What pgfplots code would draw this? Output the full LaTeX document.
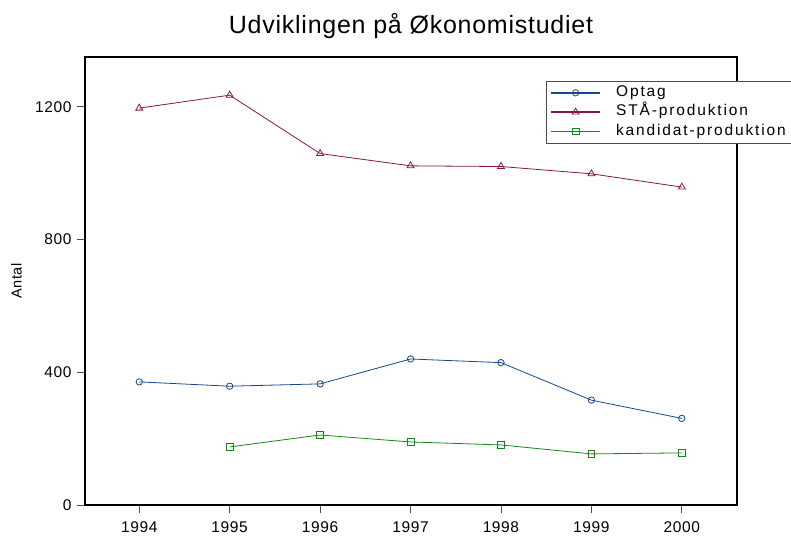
\documentclass[border=0pt]{standalone}
\usepackage{pgfplots}
\pgfplotsset{compat=1.18}
\usepackage{fontspec}
\setmainfont{Liberation Sans}
\newfontfamily\legfont[LetterSpace=12]{Liberation Sans}
\newfontfamily\tickfont[LetterSpace=4]{Liberation Sans}
\newfontfamily\titfont[LetterSpace=3]{Liberation Sans}
\usetikzlibrary{calc}
\definecolor{cOpt}{RGB}{20,72,140}
\definecolor{cSta}{RGB}{135,20,75}
\definecolor{cKan}{RGB}{20,135,20}
\begin{document}
\begin{tikzpicture}
\begin{axis}[
  name=ax,
  scale only axis,
  width=652pt, height=448pt,
  xmin=1993.4, xmax=2000.61,
  ymin=0, ymax=1350,
  xtick={1994,...,2000},
  ytick={0,400,800,1200},
  /pgf/number format/1000 sep={},
  /pgf/number format/assume math mode=true,
  tick label style={font=\tickfont\fontsize{15.5}{17}\selectfont},
  yticklabel style={xshift=-2pt},
  xticklabel style={yshift=-5pt},
  tick align=outside,
  xtick pos=bottom, ytick pos=left,
  major tick length=8pt,
  axis line style={line width=1.3pt},
  tick style={line width=0.8pt, black!70},
  title={Udviklingen på Økonomistudiet},
  title style={font=\titfont\fontsize{25}{28}\selectfont, at={(axis description cs:0.5,1)}, anchor=base, inner sep=0pt, yshift=17pt},
  ylabel={Antal},
  ylabel style={font=\tickfont\fontsize{14.5}{16}\selectfont, at={(axis description cs:-0.0966,0.5)}, anchor=south, inner sep=0pt},
  legend style={at={(0.707,0.947)}, anchor=north west, draw=black!70, line width=0.8pt,
    font=\legfont\fontsize{15.5}{17}\selectfont, row sep=0pt, inner xsep=4pt, inner ysep=2pt,
    nodes={text height=11pt, text depth=3.5pt, inner ysep=2.4pt, inner xsep=3pt},
    legend cell align=left},
  legend image code/.code={
    \draw[#1, line width=1.5pt] (0pt,0pt) -- (49pt,0pt);
    \draw[mark repeat=2,mark phase=2,#1, line width=1.2pt] plot coordinates {(0pt,0pt) (24.5pt,0pt) (49pt,0pt)};
    \path[draw=none, fill=none] (49pt,0pt) -- (62pt,0pt);
  },
  clip=false,
]
\addplot[cOpt, line width=0.8pt, mark=o, mark size=3.2pt, mark options={fill=white, line width=0.8pt}]
  coordinates {(1994,371) (1995,358) (1996,365) (1997,440) (1998,429) (1999,316) (2000,261)};
\addlegendentry{Optag}
\addplot[cSta, line width=0.8pt, mark=triangle, mark size=4pt, mark options={fill=white, line width=0.8pt}]
  coordinates {(1994,1196) (1995,1235) (1996,1059) (1997,1022) (1998,1020) (1999,998) (2000,958)};
\addlegendentry{STÅ-produktion}
\addplot[cKan, line width=0.8pt, mark=square, mark size=3.4pt, mark options={fill=white, line width=0.8pt}]
  coordinates {(1995,175) (1996,211) (1997,190) (1998,181) (1999,154) (2000,157)};
\addlegendentry{kandidat-produktion}
\coordinate (bl) at (rel axis cs:0,0);
\end{axis}
\pgfresetboundingbox
\path[use as bounding box] ($(bl)+(-85pt,-31pt)$) rectangle ($(bl)+(706pt,505pt)$);
\end{tikzpicture}
\end{document}
